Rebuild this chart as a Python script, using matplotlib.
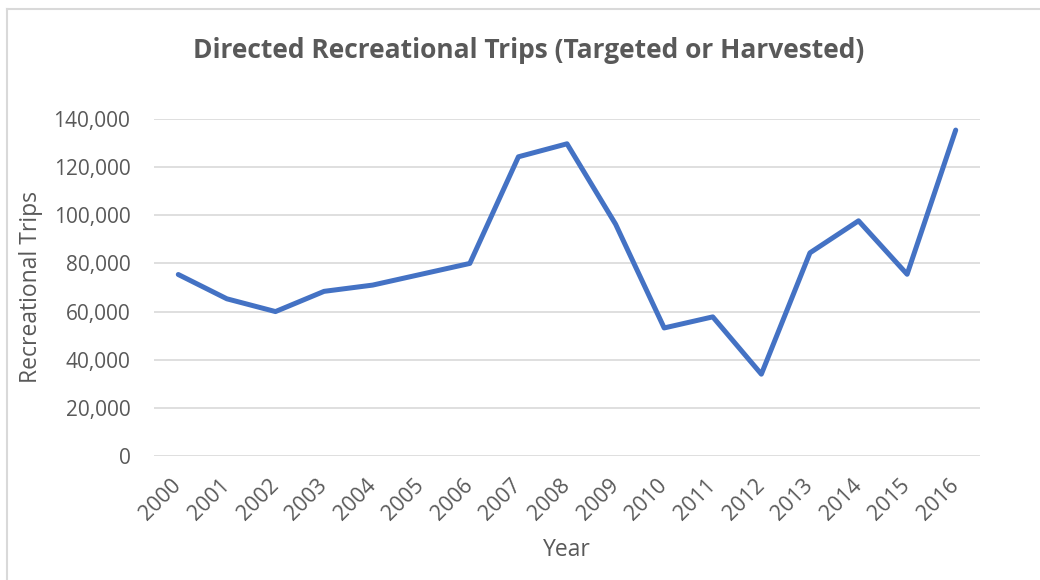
import matplotlib
matplotlib.use("Agg")
import matplotlib.pyplot as plt
from matplotlib.lines import Line2D
from matplotlib.ticker import FuncFormatter

years = ["2000", "2001", "2002", "2003", "2004", "2005", "2006", "2007", "2008",
         "2009", "2010", "2011", "2012", "2013", "2014", "2015", "2016"]
trips = [75400, 65300, 60000, 68400, 71000, 75500, 80000, 124300, 129700,
         96300, 53200, 57800, 34000, 84400, 97700, 75500, 135400]
y_ticks = [0, 20000, 40000, 60000, 80000, 100000, 120000, 140000]

TEXT = "#595959"
GRID = "#D9D9D9"
LINE = "#4472C4"

W, H = 1040, 580
fig = plt.figure(figsize=(W / 100, H / 100), dpi=100)
fig.patch.set_facecolor("white")

# plot area in pixel coordinates
left, right, top, bottom = 154, 980, 119, 456
ax = fig.add_axes([left / W, 1 - bottom / H, (right - left) / W, (bottom - top) / H])

x = list(range(len(years)))
ax.plot(x, trips, color=LINE, lw=3.6, solid_joinstyle="round", solid_capstyle="round",
        zorder=3)

ax.set_xlim(-0.5, len(years) - 0.5)
ax.set_ylim(0, 140000)
ax.set_yticks(y_ticks)
ax.yaxis.set_major_formatter(FuncFormatter(lambda v, p: f"{int(v):,}"))
ax.grid(axis="y", color=GRID, lw=1.2)
ax.set_axisbelow(True)
for s in ax.spines.values():
    s.set_visible(False)

ax.set_xticks(x)
ax.set_xticklabels(years, rotation=45, ha="right", va="center", rotation_mode="anchor")
ax.tick_params(axis="both", length=0, labelcolor=TEXT)
ax.tick_params(axis="y", pad=17, labelsize=15)
ax.tick_params(axis="x", pad=19, labelsize=15.5)
for lab in ax.get_xticklabels() + ax.get_yticklabels():
    lab.set_family("Open Sans")

fig.text(529 / W, 1 - 51 / H, "Directed Recreational Trips (Targeted or Harvested)",
         ha="center", va="center", fontsize=19, fontweight="bold", color=TEXT,
         family="Open Sans")
fig.text(31 / W, 1 - 287 / H, "Recreational Trips", rotation=90, ha="center",
         va="center", fontsize=16.5, color=TEXT, family="Open Sans")
fig.text(567 / W, 1 - 550 / H, "Year", ha="center", va="center", fontsize=16.5,
         color=TEXT, family="Open Sans")

# chart area border (top and left edges)
fig.add_artist(Line2D([7 / W, 7 / W], [0, 1 - 9 / H], transform=fig.transFigure,
                      color=GRID, lw=1.5))
fig.add_artist(Line2D([7 / W, 1], [1 - 9 / H, 1 - 9 / H], transform=fig.transFigure,
                      color=GRID, lw=1.5))

fig.savefig("out.png", dpi=100, facecolor="white")
